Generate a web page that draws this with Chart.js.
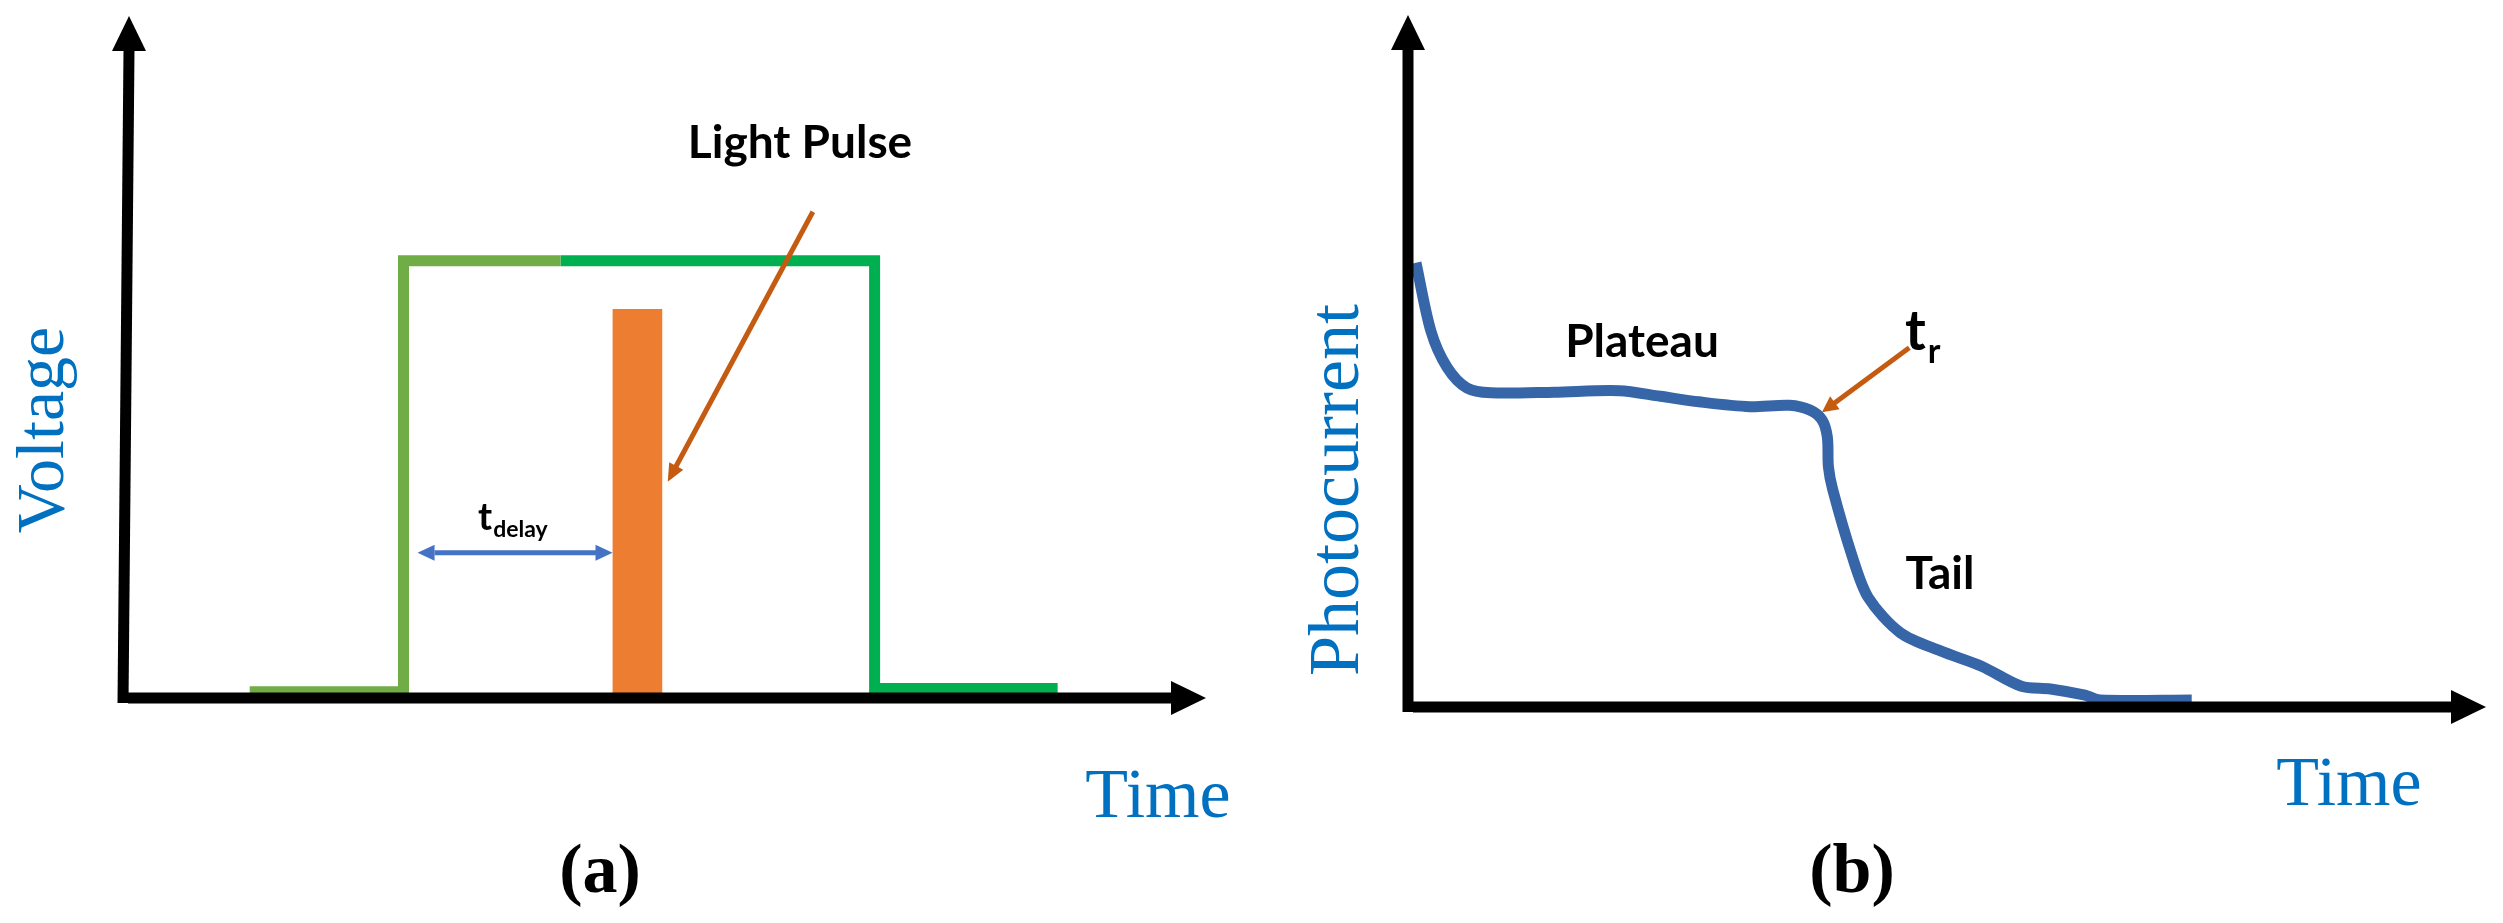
<!DOCTYPE html>
<html>
<head>
<meta charset="utf-8">
<script src="https://cdn.jsdelivr.net/npm/chart.js@4.4.1/dist/chart.umd.min.js"></script>
<style>
  html, body { margin: 0; padding: 0; background: #fff; }
  #wrap { position: relative; width: 2503px; height: 923px; }
  .panel { position: absolute; top: 0; height: 923px; }
</style>
</head>
<body>
<div id="wrap">
  <div class="panel" style="left:0;width:1250px"><canvas id="chartA" width="1250" height="923"></canvas></div>
  <div class="panel" style="left:1250px;width:1253px"><canvas id="chartB" width="1253" height="923"></canvas></div>
</div>
<script>
// (a) gate voltage pulse + light pulse, (b) photocurrent transient. Units are 0-100 on both axes.
const gateRiseX = [11.7, 25.9, 25.9, 40.4];
const gateRiseY = [0.9, 0.9, 64.1, 64.1];
const gateFallX = [40.4, 69.4, 69.4, 86.3];
const gateFallY = [64.1, 64.1, 1.4, 1.4];
const lightX = [47.5];
const lightY = [57.0];

const currentX = [0.74, 2.13, 3.62, 5.47, 7.7, 13.6, 19.6, 23.4, 27.0, 31.7, 35.4, 37.3, 38.4, 38.9, 39.0, 39.4,
  41.2, 42.7, 45.7, 49.4, 53.2, 56.9, 59.6, 62.8, 64.2, 72.7];
const currentY = [64.2, 54.3, 49.1, 46.1, 45.4, 45.5, 45.7, 44.9, 44.1, 43.4, 43.6, 42.9, 41.5, 39.0, 34.7, 31.4,
  21.8, 15.8, 10.7, 8.1, 5.9, 3.0, 2.6, 1.7, 1.0, 1.0];

const zip = (xs, ys) => xs.map((x, i) => ({ x, y: ys[i] }));

function arrowHead(ctx, x, y, ang, len, half) {
  ctx.beginPath();
  ctx.moveTo(x, y);
  ctx.lineTo(x - len * Math.cos(ang) + half * Math.sin(ang), y - len * Math.sin(ang) - half * Math.cos(ang));
  ctx.lineTo(x - len * Math.cos(ang) - half * Math.sin(ang), y - len * Math.sin(ang) + half * Math.cos(ang));
  ctx.closePath();
  ctx.fill();
}

function arrow(ctx, x1, y1, x2, y2, o) {
  const ang = Math.atan2(y2 - y1, x2 - x1);
  const dx = Math.cos(ang) * o.head, dy = Math.sin(ang) * o.head;
  ctx.save();
  ctx.strokeStyle = ctx.fillStyle = o.color;
  ctx.lineWidth = o.width;
  ctx.beginPath();
  ctx.moveTo(o.both ? x1 + dx : x1, o.both ? y1 + dy : y1);
  ctx.lineTo(x2 - dx * 0.9, y2 - dy * 0.9);
  ctx.stroke();
  arrowHead(ctx, x2, y2, ang, o.head, o.half);
  if (o.both) arrowHead(ctx, x1, y1, ang + Math.PI, o.head, o.half);
  ctx.restore();
}

function text(ctx, t) {
  ctx.save();
  ctx.fillStyle = t.color || "#000";
  ctx.font = t.font;
  ctx.textAlign = t.align || "center";
  ctx.textBaseline = "alphabetic";
  ctx.translate(t.x, t.y);
  if (t.rotate) ctx.rotate(-Math.PI / 2);
  ctx.fillText(t.text, 0, 0);
  if (t.sub) {
    const w = ctx.measureText(t.text).width;
    ctx.font = t.sub.font;
    ctx.textAlign = "left";
    ctx.fillText(t.sub.text, w + t.sub.dx, t.sub.dy);
  }
  ctx.restore();
}

const sketch = {
  id: "sketch",
  afterDatasetsDraw(chart, args, opts) {
    const ctx = chart.ctx, a = chart.chartArea;
    const xs = chart.scales.x, ys = chart.scales.y;
    (opts.arrows || []).forEach((ar) =>
      arrow(ctx, xs.getPixelForValue(ar.from[0]), ys.getPixelForValue(ar.from[1]),
        xs.getPixelForValue(ar.to[0]), ys.getPixelForValue(ar.to[1]), ar));
    // hand-drawn style axes with arrowheads
    ctx.save();
    ctx.strokeStyle = ctx.fillStyle = "#000";
    ctx.lineWidth = 11;
    ctx.beginPath();
    ctx.moveTo(a.left, a.bottom + 5);
    ctx.lineTo(a.left + (opts.slant || 0), a.top + 34);
    ctx.stroke();
    arrowHead(ctx, a.left + (opts.slant || 0), a.top, -Math.PI / 2, 35, 17);
    ctx.beginPath();
    ctx.moveTo(a.left + 5, a.bottom);
    ctx.lineTo(a.right - 33, a.bottom);
    ctx.stroke();
    arrowHead(ctx, a.right, a.bottom, 0, 35, 17);
    ctx.restore();
    (opts.texts || []).forEach((t) => text(ctx, t));
  },
};

function makeChart(id, datasets, pad, extra) {
  return new Chart(document.getElementById(id), {
    type: "line",
    data: { datasets },
    options: {
      responsive: false,
      animation: false,
      devicePixelRatio: 1,
      layout: { padding: pad },
      scales: {
        x: { type: "linear", min: 0, max: 100, offset: false, display: false },
        y: { type: "linear", min: 0, max: 100, display: false },
      },
      elements: { point: { radius: 0 } },
      plugins: { legend: { display: false }, tooltip: { enabled: false }, sketch: extra },
    },
    plugins: [sketch],
  });
}

const label = "bold 46px Lato";
const serif = "70px 'Liberation Serif'";
const blue = "#0070C0";

makeChart("chartA", [
  { type: "bar", data: zip(lightX, lightY), backgroundColor: "#ED7D31", barThickness: 49, order: 2 },
  { data: zip(gateRiseX, gateRiseY), borderColor: "#70AD47", borderWidth: 11, borderJoinStyle: "miter", tension: 0, clip: 20, order: 1 },
  { data: zip(gateFallX, gateFallY), borderColor: "#00B050", borderWidth: 11, borderJoinStyle: "miter", tension: 0, clip: 20, order: 1 },
], { left: 123, right: 44, top: 16, bottom: 225 }, {
  slant: 6,
  arrows: [
    { from: [63.7, 71.3], to: [50.3, 31.7], color: "#C55A11", width: 5, head: 18, half: 8 },
    { from: [27.2, 21.3], to: [45.2, 21.3], color: "#4472C4", width: 5, head: 17, half: 8, both: true },
  ],
  texts: [
    { text: "Light Pulse", x: 800, y: 158, font: label },
    { text: "t", x: 478, y: 530, font: "bold 38px Lato", align: "left",
      sub: { text: "delay", font: "bold 23px Lato", dx: 1, dy: 7 } },
    { text: "Voltage", x: 63, y: 430, font: "68px 'Liberation Serif'", color: blue, rotate: true },
    { text: "Time", x: 1158, y: 817, font: serif, color: blue },
    { text: "(a)", x: 600, y: 892, font: "bold " + serif },
  ],
});

makeChart("chartB", [
  { data: zip(currentX, currentY), borderColor: "#3766A8", borderWidth: 11, tension: 0.3, clip: 20 },
], { left: 158, right: 17, top: 15, bottom: 216 }, {
  arrows: [
    { from: [46.5, 51.9], to: [38.4, 42.6], color: "#C55A11", width: 5, head: 16, half: 8 },
  ],
  texts: [
    { text: "Plateau", x: 392, y: 357, font: label },
    { text: "Tail", x: 690, y: 589, font: label },
    { text: "t", x: 655, y: 350, font: "bold 56px Lato", align: "left",
      sub: { text: "r", font: "bold 34px Lato", dx: 2, dy: 13 } },
    { text: "Photocurrent", x: 108, y: 490, font: "72px 'Liberation Serif'", color: blue, rotate: true },
    { text: "Time", x: 1099, y: 805, font: serif, color: blue },
    { text: "(b)", x: 602, y: 892, font: "bold " + serif },
  ],
});
</script>
</body>
</html>
